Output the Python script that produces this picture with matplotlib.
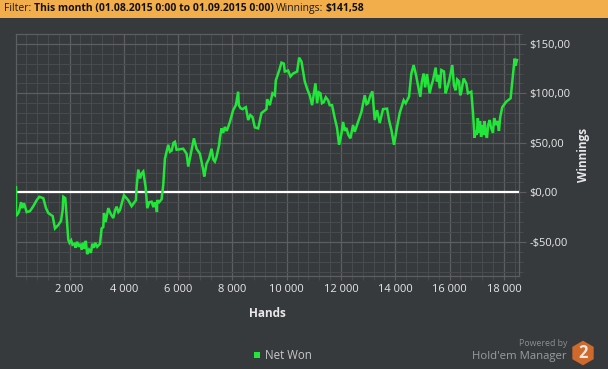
import matplotlib
matplotlib.use("Agg")
import matplotlib.pyplot as plt
from matplotlib.patches import Rectangle, Circle, RegularPolygon
from matplotlib.ticker import MultipleLocator, FuncFormatter

hands = [30,30,116,153,214,263,324,423,545,668,791,889,1036,1134,1220,1380,1465,1588,1686,1748,1772,1846,1895,1956,
         2000,2060,2110,2180,2220,2280,2340,2400,2450,2500,2560,2600,2650,2720,2790,2840,2900,2950,3020,3122,
         3183,3245,3269,3330,3429,3520,3613,3680,3736,3800,3858,4005,4165,4288,4447,4472,
         4533,4600,4656,4717,4803,4864,4940,5024,5090,5140,5208,5220,5232,5300,5392,5453,5515,5637,5700,5760,5830,5883,5944,6190,6312,6374,6460,6582,6680,6803,
         6926,6963,7048,7140,7232,7300,7355,7417,7513,7538,7599,7660,7722,7790,7844,7906,8028,8127,8212,8237,8300,8372,8495,8581,8660,8740,8826,8949,
         9071,9255,9280,9378,9476,9562,9599,9722,9808,9893,9930,10053,10139,10237,10384,10458,10544,10665,10760,10849,10935,
         11000,11058,11119,11180,11242,11300,11364,11440,11524,11585,11671,11769,11855,11929,12015,12076,12140,12199,12270,12346,12444,12505,12628,12751,
         12874,12940,12996,13070,13156,13242,13328,13426,13548,13696,13769,13855,13953,14064,14162,14309,14383,14505,14591,14676,
         14775,14836,14922,14980,15044,15100,15167,15265,15330,15388,15486,15530,15584,15640,15695,15793,15854,15920,15977,16100,16160,16222,16280,16345,16390,16431,16517,
         16615,16676,16799,16860,16920,16958,17000,17040,17081,17120,17160,17204,17250,17290,17327,17376,17420,17474,17520,17597,17640,17695,17760,17818,17860,17880,17940,18087,18247,18308,
         18394,18430,18480]
net_won = [5,-24,-21,-18,-10,-16,-11,-20,-19,-14,-8,-4.5,-6,-16,-21,-24,-36.5,-33,-29,-18,-4.5,-6,-25,-48,
           -51,-48.5,-53,-52,-56,-50,-55,-52,-58,-51,-57,-49,-62.5,-58,-61,-52,-56,-51,-55,-52,
           -36.5,-35,-21,-30,-16,-22,-26,-18,-14.5,-20,-18,-3,-8,-14,-8,5.5,
           23,14,19,21,5.5,-16,-10,-9.5,-15,-10,-17,-20,-8,-10,-7,7.5,34,48,41,42,50,51,43,44,39,26,38,54.5,44,39,
           22.5,16,29,34,44,33,31,36,48,54.5,64.6,60,66,62,66,71,83,88,101.6,88,85,84,86,73,78,76,65.6,64.6,
           80,84,94,88,100,98,113,123,131,130,122,123,117,120,122,136,132,112,104,98,88,
           100,110,90,101,100,90,91,96,93,88,88,75,65,48,59,71,62,65,58,54.5,68,61,71,81,
           98,89,90,97,102,73,83,70,84,84.5,73,63,48,66,80,93,90,96.5,120,128.5,
           117,108,96.5,112,120,106,119.5,100,108,113,126,112,118.5,105,123.5,122,100,106,112,128.5,108,103,114,112,98,101.6,115,
           110,100,101.6,81,55,62,58,75,60,72,56,68,58,72,60,55,68,73,66,60,75,68,72,62,75,78,86,91.5,95,112,
           135,128,133.6]

x_ticks = [2000,4000,6000,8000,10000,12000,14000,16000,18000]
y_ticks = [-50,0,50,100,150]

W, H = 608, 369
BG = "#373a3d"
plt.rcParams['font.family'] = ['Open Sans', 'DejaVu Sans']
fig = plt.figure(figsize=(W/100, H/100), dpi=100, facecolor=BG)

L, R, T, B = 15.5, 518.5, 33.5, 275.5
ax = fig.add_axes([L/W, 1-B/H, (R-L)/W, (B-T)/H], facecolor=BG)
ax.set_xlim((L-15.2)/54.3*2000, (R-15.2)/54.3*2000)
ax.set_ylim((192.3-B)/0.99, (192.3-T)/0.99)

MAJOR, MINOR = "#5c5e60", "#484b4e"
ax.set_xticks(x_ticks)
ax.xaxis.set_minor_locator(MultipleLocator(400))
ax.set_yticks(y_ticks)
ax.yaxis.set_minor_locator(MultipleLocator(10))
ax.yaxis.tick_right()
ax.grid(which='major', color=MAJOR, lw=0.9)
ax.grid(which='minor', color=MINOR, lw=0.72)
ax.set_axisbelow(True)
for s in ax.spines.values():
    s.set_color(MAJOR); s.set_linewidth(0.9)
ax.tick_params(which='major', axis='x', length=3.2, color=MAJOR, width=0.8, labelsize=8, labelcolor="#e8e8e8", pad=3)
ax.tick_params(which='minor', axis='x', length=3.2, color=MINOR, width=0.8)
ax.tick_params(which='major', axis='y', length=5, color=MAJOR, width=0.8, labelsize=8, labelcolor="#e8e8e8", pad=3)
ax.tick_params(which='minor', axis='y', length=3, color=MINOR, width=0.8)
ax.xaxis.set_major_formatter(FuncFormatter(lambda v, p: f"{int(v):,}".replace(",", " ")))
ax.yaxis.set_major_formatter(FuncFormatter(
    lambda v, p: ("-" if v < 0 else "") + f"${abs(int(v))},00"))

ax.axhline(0, color="white", lw=1.6, zorder=3)
ax.plot(hands, net_won, color="#22e63a", lw=1.8, solid_joinstyle='miter', zorder=4)

def t(x, y, s, **kw):
    kw.setdefault('va', 'center')
    fig.text(x/W, 1-y/H, s, **kw)

# Header band
fig.add_artist(Rectangle((0, 1-18/H), 1, 18/H, transform=fig.transFigure, fc="#f3ae4c", ec="none"))
t(4, 8.7, "Filter:", fontsize=7.5, color="#1a1a1a")
t(33.5, 8.7, "This month (01.08.2015 0:00 to 01.09.2015 0:00)", fontsize=7.5, fontweight='bold', color="#111111")
t(276, 8.7, "Winnings:", fontsize=7.5, color="#1a1a1a")
t(325.5, 8.7, "$141,58", fontsize=7.5, fontweight='bold', color="#111111")

over = fig.add_axes([0, 0, 1, 1], facecolor="none")
over.set_xlim(0, W); over.set_ylim(H, 0); over.axis('off')
over.add_patch(Circle((598.7, 8.7), 6.7, fc="#1c62a8", ec="#134a80", lw=0.6))
over.text(598.7, 8.9, "?", color="white", fontsize=8, fontweight='bold', ha='center', va='center')

# Axis titles
t(267, 313.5, "Hands", fontsize=8.5, fontweight='bold', color="#e8e8e8", ha='center')
t(584, 155, "Winnings", fontsize=8.5, fontweight='bold', color="#e8e8e8", ha='center', rotation=90)

# Legend
over.add_patch(Rectangle((253.5, 352), 6, 6, fc="#22e63a", ec="none"))
t(265, 355.5, "Net Won", fontsize=8.3, color="#c8c8c8")

# Branding
t(567, 344, "Powered by", fontsize=6.3, color="#8c8e90", ha='right')
t(567, 356, "Hold'em Manager", fontsize=8.2, color="#9a9c9e", ha='right')
over.add_patch(RegularPolygon((583, 353), 6, radius=12.3, fc="#cf6a2c", ec="none"))
over.text(583, 352.5, "2", color="#f0e8e0", fontsize=12, fontweight='bold', ha='center', va='center')

fig.savefig("out.png", dpi=100, facecolor=BG)
